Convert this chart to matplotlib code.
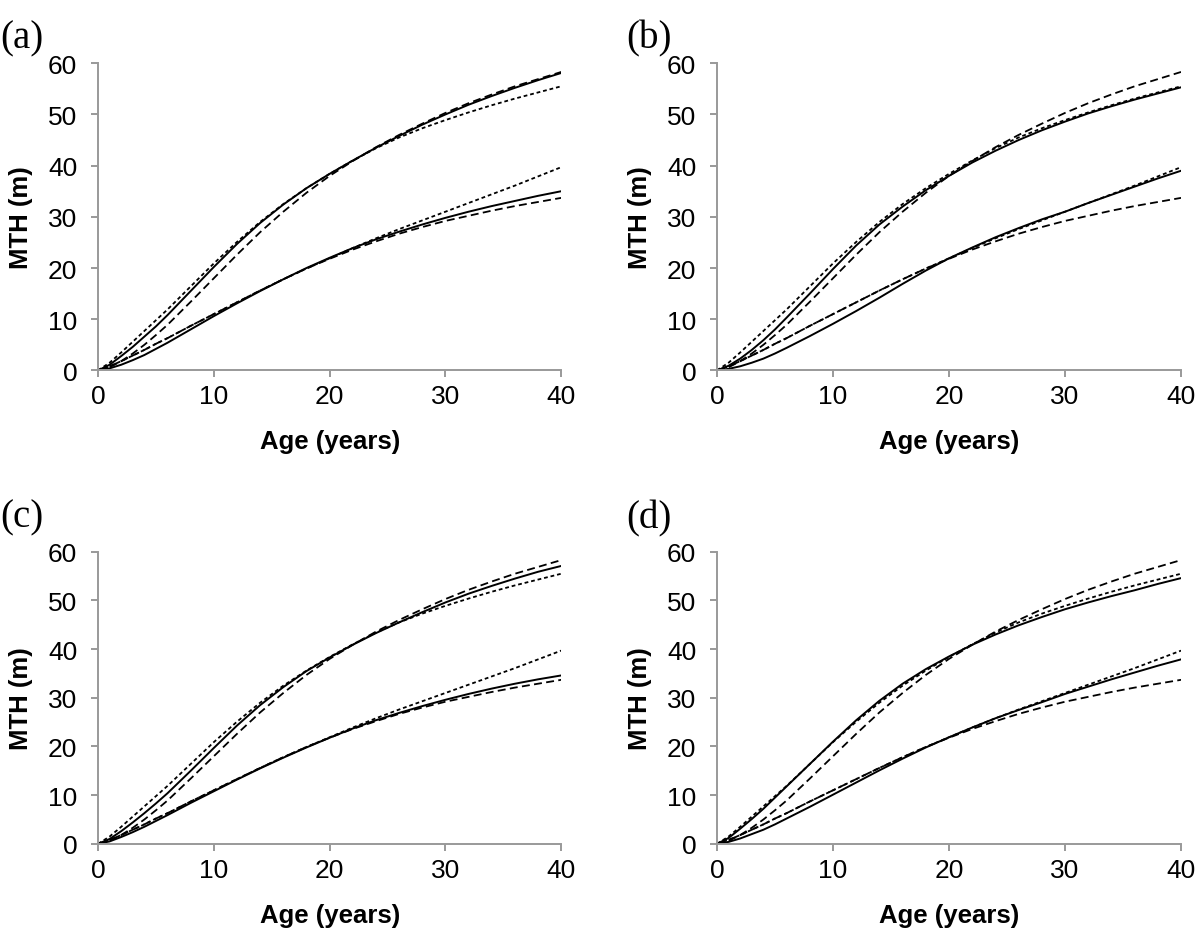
import matplotlib
matplotlib.use('Agg')
import matplotlib.pyplot as plt

plt.rcParams['font.family'] = ['Liberation Sans', 'DejaVu Sans']

ages = [0, 1, 2, 3, 4, 5, 6, 8, 10, 12, 14, 16, 18, 20, 22, 24, 26, 28, 30, 32, 34, 36, 38, 40]

# reference curves, identical in all four panels
upper_long = [0, 0.6, 1.8, 3.3, 5.0, 6.9, 8.9, 13.4, 18.0, 22.6, 27.0, 31.0, 34.7, 38.0,
              40.9, 43.6, 46.0, 48.2, 50.3, 52.2, 53.9, 55.5, 56.9, 58.3]
upper_short = [0, 1.5, 3.5, 5.6, 7.7, 9.8, 11.9, 16.4, 20.9, 25.1, 29.0, 32.5, 35.6, 38.4,
               41.0, 43.4, 45.5, 47.3, 48.9, 50.4, 51.8, 53.1, 54.3, 55.5]
lower_short = [0, 0.8, 1.8, 2.9, 4.0, 5.2, 6.3, 8.7, 11.0, 13.3, 15.6, 17.8, 19.9, 21.9,
               23.9, 25.8, 27.6, 29.3, 31.0, 32.7, 34.4, 36.1, 37.9, 39.7]
lower_long = [0, 0.8, 1.8, 2.9, 4.0, 5.2, 6.3, 8.7, 11.0, 13.3, 15.6, 17.8, 19.9, 21.8,
              23.6, 25.2, 26.7, 28.0, 29.2, 30.2, 31.2, 32.1, 32.9, 33.7]

# fitted curves per panel (solid)
upper_a = [0, 1.1, 2.8, 4.6, 6.6, 8.6, 10.8, 15.5, 20.2, 24.7, 28.8, 32.4, 35.6, 38.4,
           41.0, 43.5, 45.8, 48.0, 50.0, 51.9, 53.6, 55.2, 56.7, 58.1]
lower_a = [0, 0.4, 1.1, 2.0, 3.0, 4.2, 5.4, 8.0, 10.6, 13.1, 15.5, 17.8, 20.0, 22.0,
           23.9, 25.6, 27.1, 28.5, 29.8, 31.0, 32.1, 33.1, 34.1, 35.0]
upper_b = [0, 0.9, 2.3, 4.0, 5.9, 8.0, 10.3, 15.0, 19.8, 24.4, 28.5, 32.0, 35.2, 38.0,
           40.6, 42.9, 45.0, 46.9, 48.6, 50.2, 51.6, 52.9, 54.1, 55.3]
lower_b = [0, 0.3, 0.8, 1.5, 2.3, 3.3, 4.4, 6.7, 9.1, 11.6, 14.2, 16.9, 19.5, 21.9,
           24.0, 26.0, 27.8, 29.5, 31.0, 32.7, 34.3, 35.9, 37.5, 39.0]
upper_c = [0, 1.0, 2.6, 4.4, 6.3, 8.3, 10.4, 15.0, 19.7, 24.3, 28.5, 32.2, 35.5, 38.3,
           40.9, 43.3, 45.5, 47.6, 49.6, 51.4, 53.0, 54.5, 55.9, 57.1]
lower_c = [0, 0.5, 1.4, 2.4, 3.5, 4.7, 5.9, 8.4, 10.8, 13.2, 15.5, 17.7, 19.8, 21.8,
           23.7, 25.4, 26.9, 28.3, 29.6, 30.8, 31.9, 32.9, 33.8, 34.6]
upper_d = [0, 1.2, 3.1, 5.1, 7.2, 9.5, 11.8, 16.4, 21.0, 25.4, 29.4, 32.9, 35.9, 38.5,
           40.9, 43.0, 44.9, 46.6, 48.2, 49.6, 50.9, 52.1, 53.4, 54.6]
lower_d = [0, 0.4, 1.1, 2.0, 2.9, 4.0, 5.2, 7.6, 10.1, 12.6, 15.1, 17.5, 19.8, 21.9,
           23.9, 25.8, 27.5, 29.1, 30.8, 32.3, 33.8, 35.2, 36.6, 37.9]

panel_labels = ['(a)', '(b)', '(c)', '(d)']
solid_upper = [upper_a, upper_b, upper_c, upper_d]
solid_lower = [lower_a, lower_b, lower_c, lower_d]

fig = plt.figure(figsize=(12, 9.45), dpi=100)

# axes rectangles in figure fractions
rects = [
    [0.0817, 0.607, 0.386, 0.325],
    [0.5975, 0.607, 0.3867, 0.325],
    [0.0817, 0.106, 0.386, 0.309],
    [0.5975, 0.106, 0.3867, 0.309],
]
letter_pos = [(0.0, 0.978), (0.522, 0.978), (0.0, 0.471), (0.522, 0.471)]

long_dash = [4.4, 2.4]
short_dash = [2.1, 1.6]
grey = '#999999'

for i in range(4):
    ax = fig.add_axes(rects[i])
    ax.plot(ages, upper_long, color='k', lw=1.3, dashes=long_dash)
    ax.plot(ages, upper_short, color='k', lw=1.3, dashes=short_dash)
    ax.plot(ages, lower_short, color='k', lw=1.3, dashes=short_dash)
    ax.plot(ages, lower_long, color='k', lw=1.3, dashes=long_dash)
    ax.plot(ages, solid_upper[i], color='k', lw=1.4)
    ax.plot(ages, solid_lower[i], color='k', lw=1.4)

    ax.set_xlim(0, 40)
    ax.set_ylim(0, 60)
    ax.set_xticks([0, 10, 20, 30, 40])
    ax.set_yticks([0, 10, 20, 30, 40, 50, 60])
    for side in ['top', 'right']:
        ax.spines[side].set_visible(False)
    for side in ['left', 'bottom']:
        ax.spines[side].set_color(grey)
        ax.spines[side].set_linewidth(1.4)
    ax.tick_params(axis='both', direction='out', length=5, width=1.4, color=grey,
                   labelsize=19)
    ax.tick_params(axis='y', pad=10)
    ax.tick_params(axis='x', pad=5)
    ax.set_xlabel('Age (years)', fontsize=18.5, fontweight='bold', labelpad=15)
    ax.set_ylabel('MTH (m)', fontsize=18.5, fontweight='bold', labelpad=11)

    fig.text(letter_pos[i][0], letter_pos[i][1], panel_labels[i], fontsize=28,
             family=['Liberation Serif', 'DejaVu Serif'], va='top', ha='left')

fig.savefig('out.png', dpi=100)
